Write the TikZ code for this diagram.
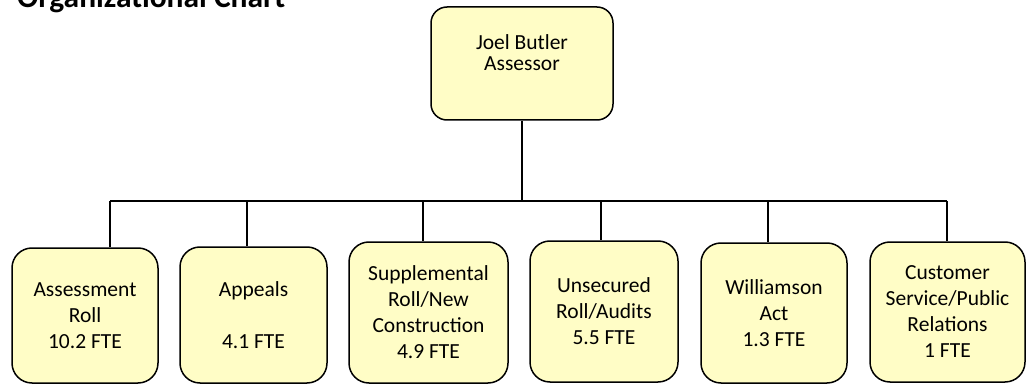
\documentclass[tikz,border=0pt]{standalone}
\usepackage{fontspec}
\setmainfont{Carlito}
\definecolor{boxfill}{HTML}{FFFDC6}
\begin{document}
\begin{tikzpicture}[x=1pt,y=-1pt,
  box/.style={draw=black,line width=1.5pt,fill=boxfill,rounded corners=20pt,
    align=center,inner sep=0pt,font=\fontsize{21.5}{26}\selectfont},
  link/.style={draw=black,line width=1.6pt}]
\useasboundingbox (0,0) rectangle (1031,385);
\node[anchor=base west,font=\bfseries\fontsize{31.5}{36}\selectfont,inner sep=0pt] (title) at (17,8) {Organizational Chart};
\node[box,rounded corners=16pt,minimum width=182pt,minimum height=113pt,
  font=\fontsize{21.5}{21.5}\selectfont] (top) at (522,63.5) {Joel Butler\\Assessor\\~};
\node[box,minimum width=146pt,minimum height=135pt] (b1) at (85,315.5) {Assessment\\Roll\\10.2 FTE};
\node[box,minimum width=147pt,minimum height=136pt] (b2) at (253.5,315) {Appeals\\~\\4.1 FTE};
\node[box,minimum width=159pt,minimum height=141pt] (b3) at (428.5,312.5) {Supplemental\\Roll/New\\Construction\\4.9 FTE};
\node[box,minimum width=148pt,minimum height=141pt] (b4) at (604,311.5) {Unsecured\\Roll/Audits\\5.5 FTE};
\node[box,minimum width=146pt,minimum height=140pt] (b5) at (774,313) {Williamson\\Act\\1.3 FTE};
\node[box,minimum width=155pt,minimum height=140pt] (b6) at (947.5,312) {Customer\\Service/Public\\Relations\\1 FTE};
\coordinate (d1) at (110,201);
\coordinate (d2) at (247,201);
\coordinate (d3) at (423,201);
\coordinate (d4) at (601,201);
\coordinate (d5) at (768,201);
\coordinate (d6) at (947,201);
\draw[link] (top.south) -- (top.south |- d1);
\draw[link] (d1) -- (d6);
\draw[link] (d1) -- (d1 |- b1.north);
\draw[link] (d2) -- (d2 |- b2.north);
\draw[link] (d3) -- (d3 |- b3.north);
\draw[link] (d4) -- (d4 |- b4.north);
\draw[link] (d5) -- (d5 |- b5.north);
\draw[link] (d6) -- (d6 |- b6.north);
\end{tikzpicture}
\end{document}
